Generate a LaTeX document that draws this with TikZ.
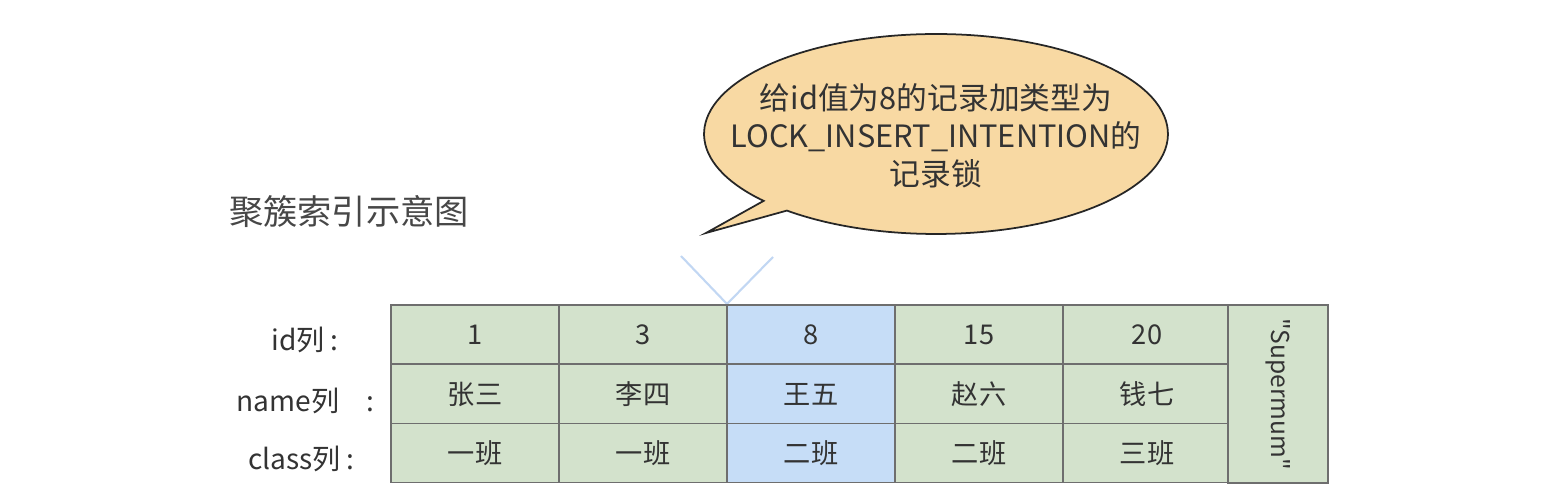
\documentclass[tikz,border=0pt]{standalone}
\usepackage{fontspec}
\setmainfont{Noto Sans CJK SC}
\newfontfamily\suprfont{Noto Sans CJK SC}
\usepackage{tikz}
\usetikzlibrary{calc,positioning}

\definecolor{cellgreen}{HTML}{D3E2CC}
\definecolor{cellblue}{HTML}{C6DDF7}
\definecolor{cellline}{HTML}{6E6E6E}
\definecolor{bubblefill}{HTML}{F8D9A3}
\definecolor{vblue}{HTML}{C2D7F3}
\definecolor{txt}{HTML}{333333}

\tikzset{
    cell/.style={draw=cellline, line width=0.6pt, fill=cellgreen, minimum width=3.36cm,
                 minimum height=1.18cm, inner sep=0pt, text=txt, font=\fontsize{15.5}{18}\selectfont},
    hotcell/.style={cell, fill=cellblue},
    rowlabel/.style={anchor=east, text=txt, font=\fontsize{16}{19}\selectfont},
}

\begin{document}
\begin{tikzpicture}[x=0.02cm, y=-0.02cm]
                    \useasboundingbox (0,0) rectangle (1560,502);
                    \node[text=txt!90, font=\fontsize{19.5}{23}\selectfont] (title) at (349,212) {聚簇索引示意图};

                    \coordinate (bub) at (936,134);
                    \coordinate (tip) at (706,233);
                    \draw[fill=bubblefill, draw=black!85, line width=1pt]
                            ($(bub)+(230:4.64cm and 2cm)$) arc[start angle=230, end angle=582, x radius=4.64cm, y radius=2cm]
                            -- (tip) -- cycle;
                    \node[align=center, text=txt, font=\fontsize{17.5}{21.6}\selectfont] (bubtext) at (936,136)
                            {给id值为8的记录加类型为\\LOCK\_INSERT\_INTENTION的\\记录锁};

                    \coordinate (vtip) at (727,304);
                    \draw[vblue, line width=1.2pt] (681,256) -- (vtip) -- (773,257);

                    \node[rowlabel] (idlab) at (345,340) {id列 :};
                    \node[rowlabel] (namelab) at (381,401) {name列\hspace{0.55cm}:};
                    \node[rowlabel] (classlab) at (361,459) {class列 :};

                    \foreach \i/\id/\nm/\cl/\sty in {1/1/张三/一班/cell, 2/3/李四/一班/cell, 3/8/王五/二班/hotcell,
                                                     4/15/赵六/二班/cell, 5/20/钱七/三班/cell}{
                        \node[\sty] (c\i-id) at ({475+168*(\i-1)},334.5) {\raisebox{-2pt}{\id}};
                        \node[\sty] (c\i-name) at ({475+168*(\i-1)},394) {\raisebox{-2pt}{\nm}};
                        \node[\sty] (c\i-class) at ({475+168*(\i-1)},453) {\raisebox{-2pt}{\cl}};
                    }

                    \node[cell, rotate=-90, minimum width=3.56cm, minimum height=2cm,
                          font=\suprfont\fontsize{14}{17}\selectfont] (supr) at (1278,394) {"Supermum"};
\end{tikzpicture}
\end{document}
